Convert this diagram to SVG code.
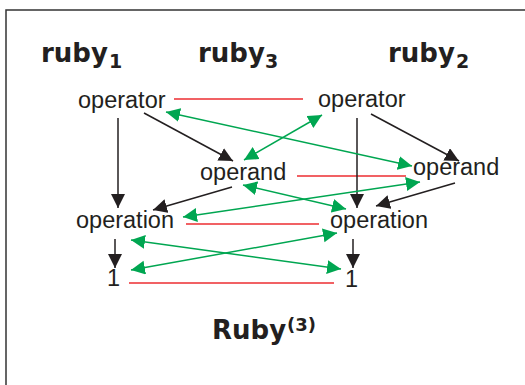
<svg xmlns="http://www.w3.org/2000/svg" width="525" height="385" viewBox="0 0 525 385">
<defs>
<style>
.title{font-family:"DejaVu Sans",sans-serif;font-weight:bold;font-size:26px;fill:#231f20}
.sub{font-size:19px}
.node{font-family:"Liberation Sans",Arial,sans-serif;font-size:23.5px;fill:#231f20}
.blk{stroke:#231f20;stroke-width:1.5;fill:none;marker-end:url(#ab)}
.grn{stroke:#00a651;stroke-width:1.5;fill:none;marker-start:url(#ag);marker-end:url(#ag)}
.red{stroke:#ec2d30;stroke-width:1.4;fill:none}
</style>
<marker id="ab" markerUnits="userSpaceOnUse" markerWidth="15" markerHeight="15" refX="14" refY="7" orient="auto"><path d="M0,0 L14,7 L0,14 z" fill="#231f20"/></marker>
<marker id="ag" markerUnits="userSpaceOnUse" markerWidth="15" markerHeight="15" refX="14" refY="7" orient="auto-start-reverse"><path d="M0,0 L14,7 L0,14 z" fill="#00a651"/></marker>
</defs>
<rect x="0" y="0" width="525" height="385" fill="#fff"/>
<rect x="6" y="10" width="530" height="390" fill="none" stroke="#333" stroke-width="1.5"/>
<g id="titles">
<text class="title" x="41" y="62">ruby<tspan class="sub" dx="1" dy="6">1</tspan></text>
<text class="title" x="198" y="62">ruby<tspan class="sub" dx="0" dy="6">3</tspan></text>
<text class="title" x="388" y="62">ruby<tspan class="sub" dx="1" dy="6">2</tspan></text>
<text class="title" x="212" y="339" font-size="24">Ruby<tspan font-size="18" dx="1" dy="-8">(3)</tspan></text>
</g>
<g id="connectors">
<line class="red" x1="174" y1="99" x2="303" y2="99"/>
<line class="red" x1="297" y1="176" x2="406" y2="176"/>
<line class="red" x1="186" y1="224" x2="319" y2="224"/>
<line class="red" x1="129" y1="283" x2="334" y2="283"/>
<line class="blk" x1="118" y1="118" x2="118" y2="208"/>
<line class="blk" x1="144" y1="113" x2="233" y2="161"/>
<line class="blk" x1="232" y1="187" x2="153" y2="210"/>
<line class="blk" x1="115" y1="239" x2="115" y2="268"/>
<line class="blk" x1="357" y1="118" x2="357" y2="208"/>
<line class="blk" x1="371" y1="114" x2="459" y2="161"/>
<line class="blk" x1="455" y1="183" x2="376" y2="206"/>
<line class="blk" x1="353" y1="239" x2="353" y2="268"/>
<line class="grn" x1="166" y1="112" x2="412" y2="166"/>
<line class="grn" x1="244" y1="160" x2="322" y2="115"/>
<line class="grn" x1="243" y1="185" x2="346" y2="209"/>
<line class="grn" x1="183" y1="217" x2="420" y2="182"/>
<line class="grn" x1="131" y1="240" x2="341" y2="269"/>
<line class="grn" x1="131" y1="270" x2="337" y2="233"/>
</g>
<g id="op1"><text class="node" x="78" y="108">operator</text></g>
<g id="op2"><text class="node" x="318" y="107">operator</text></g>
<g id="opd3"><text class="node" x="200" y="180">operand</text></g>
<g id="opd2"><text class="node" x="413" y="175">operand</text></g>
<g id="opn1"><text class="node" x="76" y="228">operation</text></g>
<g id="opn2"><text class="node" x="330" y="228">operation</text></g>
<g id="one1"><text class="node" x="107" y="286">1</text></g>
<g id="one2"><text class="node" x="345" y="287">1</text></g>
</svg>
